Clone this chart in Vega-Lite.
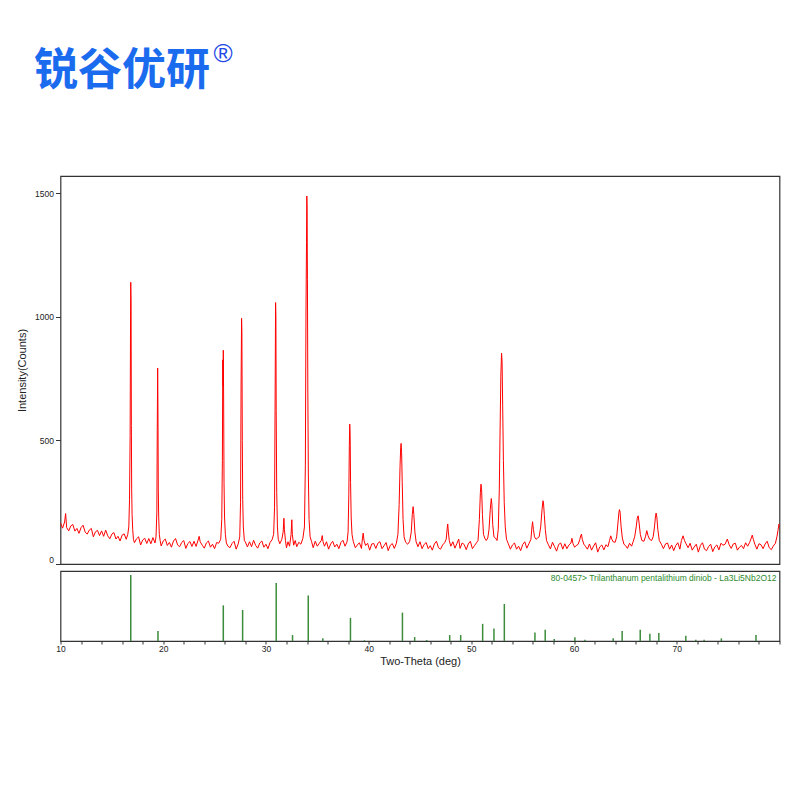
{
  "$schema": "https://vega.github.io/schema/vega-lite/v6.json",
  "description": "XRD pattern with reference card 80-0457 (La3Li5Nb2O12)",
  "padding": {"left": 15.5, "top": 41, "right": 5, "bottom": 5},
  "background": "white",
  "title": {
    "text": "锐谷优研",
    "subtitle": "\u200B\u2003\u2003\u2003\u2003\u2003\u2003\u2002\u2009\u2009®",
    "anchor": "start",
    "dx": 18,
    "offset": 72,
    "font": "Noto Sans CJK SC",
    "fontSize": 44,
    "fontWeight": "bold",
    "color": "#1b6bef",
    "subtitleFont": "Liberation Sans",
    "subtitleFontSize": 26,
    "subtitleColor": "#2147e6",
    "subtitlePadding": -53
  },
  "datasets": {
    "scan": [
      {"theta":10.0,"counts":167},{"theta":10.2,"counts":145},{"theta":10.4,"counts":170},{"theta":10.5,"counts":204},{"theta":10.6,"counts":147},
      {"theta":10.8,"counts":134},{"theta":11.0,"counts":154},{"theta":11.2,"counts":160},{"theta":11.4,"counts":133},{"theta":11.6,"counts":144},
      {"theta":11.8,"counts":124},{"theta":12.0,"counts":147},{"theta":12.2,"counts":157},{"theta":12.4,"counts":129},{"theta":12.6,"counts":121},
      {"theta":12.8,"counts":137},{"theta":13.0,"counts":144},{"theta":13.2,"counts":110},{"theta":13.4,"counts":130},{"theta":13.6,"counts":136},
      {"theta":13.8,"counts":115},{"theta":14.0,"counts":134},{"theta":14.2,"counts":112},{"theta":14.4,"counts":137},{"theta":14.6,"counts":114},
      {"theta":14.8,"counts":102},{"theta":15.0,"counts":121},{"theta":15.2,"counts":127},{"theta":15.4,"counts":101},{"theta":15.6,"counts":112},
      {"theta":15.8,"counts":93},{"theta":16.0,"counts":117},{"theta":16.2,"counts":122},{"theta":16.4,"counts":100},{"theta":16.55,"counts":120},
      {"theta":16.65,"counts":150},{"theta":16.72,"counts":260},{"theta":16.78,"counts":520},{"theta":16.82,"counts":1000},{"theta":16.84,"counts":1140},
      {"theta":16.87,"counts":1060},{"theta":16.9,"counts":560},{"theta":16.93,"counts":300},{"theta":16.97,"counts":200},{"theta":17.03,"counts":140},
      {"theta":17.1,"counts":100},{"theta":17.2,"counts":86},{"theta":17.4,"counts":102},{"theta":17.6,"counts":110},{"theta":17.8,"counts":77},
      {"theta":18.0,"counts":97},{"theta":18.2,"counts":104},{"theta":18.4,"counts":83},{"theta":18.6,"counts":103},{"theta":18.8,"counts":82},
      {"theta":19.0,"counts":107},{"theta":19.2,"counts":85},{"theta":19.3,"counts":110},{"theta":19.38,"counts":210},{"theta":19.42,"counts":540},
      {"theta":19.46,"counts":793},{"theta":19.49,"counts":620},{"theta":19.52,"counts":300},{"theta":19.56,"counts":190},{"theta":19.62,"counts":120},
      {"theta":19.7,"counts":95},{"theta":19.8,"counts":73},{"theta":20.0,"counts":93},{"theta":20.2,"counts":101},{"theta":20.4,"counts":75},
      {"theta":20.6,"counts":87},{"theta":20.8,"counts":68},{"theta":21.0,"counts":93},{"theta":21.2,"counts":103},{"theta":21.4,"counts":77},
      {"theta":21.6,"counts":70},{"theta":21.8,"counts":87},{"theta":22.0,"counts":95},{"theta":22.2,"counts":63},{"theta":22.4,"counts":83},
      {"theta":22.6,"counts":91},{"theta":22.8,"counts":71},{"theta":23.0,"counts":92},{"theta":23.2,"counts":71},{"theta":23.4,"counts":97},
      {"theta":23.5,"counts":112},{"theta":23.6,"counts":90},{"theta":23.8,"counts":76},{"theta":24.0,"counts":64},{"theta":24.2,"counts":85},
      {"theta":24.4,"counts":93},{"theta":24.6,"counts":68},{"theta":24.8,"counts":80},{"theta":25.0,"counts":62},{"theta":25.2,"counts":87},
      {"theta":25.4,"counts":84},{"theta":25.6,"counts":100},{"theta":25.7,"counts":180},{"theta":25.76,"counts":420},{"theta":25.8,"counts":826},
      {"theta":25.83,"counts":720},{"theta":25.85,"counts":865},{"theta":25.88,"counts":680},{"theta":25.92,"counts":330},{"theta":25.97,"counts":190},
      {"theta":26.05,"counts":120},{"theta":26.15,"counts":85},{"theta":26.3,"counts":72},{"theta":26.5,"counts":66},{"theta":26.7,"counts":83},
      {"theta":26.9,"counts":92},{"theta":27.1,"counts":60},{"theta":27.3,"counts":81},{"theta":27.45,"counts":110},{"theta":27.53,"counts":250},
      {"theta":27.58,"counts":720},{"theta":27.63,"counts":994},{"theta":27.66,"counts":940},{"theta":27.7,"counts":500},{"theta":27.74,"counts":260},
      {"theta":27.8,"counts":150},{"theta":27.9,"counts":95},{"theta":28.0,"counts":89},{"theta":28.2,"counts":69},{"theta":28.4,"counts":90},
      {"theta":28.6,"counts":70},{"theta":28.8,"counts":96},{"theta":29.0,"counts":75},{"theta":29.2,"counts":64},{"theta":29.4,"counts":85},
      {"theta":29.6,"counts":93},{"theta":29.8,"counts":68},{"theta":30.0,"counts":80},{"theta":30.2,"counts":62},{"theta":30.4,"counts":87},
      {"theta":30.6,"counts":98},{"theta":30.75,"counts":120},{"theta":30.84,"counts":230},{"theta":30.9,"counts":720},{"theta":30.94,"counts":1058},
      {"theta":30.97,"counts":1000},{"theta":31.0,"counts":620},{"theta":31.05,"counts":290},{"theta":31.12,"counts":150},{"theta":31.2,"counts":100},
      {"theta":31.35,"counts":82},{"theta":31.55,"counts":100},{"theta":31.68,"counts":130},{"theta":31.75,"counts":185},{"theta":31.8,"counts":140},
      {"theta":31.9,"counts":95},{"theta":32.0,"counts":66},{"theta":32.15,"counts":90},{"theta":32.3,"counts":72},{"theta":32.45,"counts":120},
      {"theta":32.52,"counts":179},{"theta":32.57,"counts":120},{"theta":32.7,"counts":76},{"theta":32.85,"counts":95},{"theta":33.0,"counts":70},
      {"theta":33.2,"counts":88},{"theta":33.4,"counts":80},{"theta":33.6,"counts":104},{"theta":33.75,"counts":150},{"theta":33.84,"counts":400},
      {"theta":33.9,"counts":1020},{"theta":33.95,"counts":1300},{"theta":33.98,"counts":1489},{"theta":34.01,"counts":1440},{"theta":34.04,"counts":1150},
      {"theta":34.08,"counts":700},{"theta":34.13,"counts":360},{"theta":34.2,"counts":180},{"theta":34.3,"counts":110},{"theta":34.45,"counts":90},
      {"theta":34.6,"counts":66},{"theta":34.8,"counts":92},{"theta":35.0,"counts":72},{"theta":35.2,"counts":84},{"theta":35.4,"counts":96},
      {"theta":35.48,"counts":115},{"theta":35.56,"counts":90},{"theta":35.7,"counts":72},{"theta":35.9,"counts":90},{"theta":36.1,"counts":60},
      {"theta":36.3,"counts":81},{"theta":36.5,"counts":92},{"theta":36.7,"counts":69},{"theta":36.9,"counts":80},{"theta":37.1,"counts":62},
      {"theta":37.3,"counts":87},{"theta":37.5,"counts":96},{"theta":37.7,"counts":72},{"theta":37.9,"counts":90},{"theta":38.0,"counts":130},
      {"theta":38.07,"counts":280},{"theta":38.12,"counts":480},{"theta":38.16,"counts":566},{"theta":38.2,"counts":520},{"theta":38.24,"counts":330},
      {"theta":38.3,"counts":190},{"theta":38.38,"counts":120},{"theta":38.5,"counts":92},{"theta":38.7,"counts":66},{"theta":38.9,"counts":77},
      {"theta":39.1,"counts":86},{"theta":39.3,"counts":63},{"theta":39.4,"counts":105},{"theta":39.47,"counts":125},{"theta":39.55,"counts":95},
      {"theta":39.7,"counts":75},{"theta":39.9,"counts":84},{"theta":40.1,"counts":56},{"theta":40.3,"counts":81},{"theta":40.5,"counts":83},
      {"theta":40.7,"counts":63},{"theta":40.9,"counts":84},{"theta":41.1,"counts":90},{"theta":41.3,"counts":62},{"theta":41.5,"counts":74},
      {"theta":41.7,"counts":87},{"theta":41.9,"counts":54},{"theta":42.1,"counts":75},{"theta":42.3,"counts":83},{"theta":42.5,"counts":63},
      {"theta":42.7,"counts":84},{"theta":42.85,"counts":120},{"theta":42.97,"counts":240},{"theta":43.06,"counts":400},{"theta":43.12,"counts":470},
      {"theta":43.16,"counts":488},{"theta":43.21,"counts":450},{"theta":43.27,"counts":330},{"theta":43.35,"counts":180},{"theta":43.45,"counts":110},
      {"theta":43.6,"counts":88},{"theta":43.8,"counts":80},{"theta":44.0,"counts":92},{"theta":44.15,"counts":130},{"theta":44.25,"counts":200},
      {"theta":44.33,"counts":232},{"theta":44.4,"counts":200},{"theta":44.5,"counts":130},{"theta":44.62,"counts":90},{"theta":44.8,"counts":70},
      {"theta":45.0,"counts":90},{"theta":45.2,"counts":62},{"theta":45.4,"counts":79},{"theta":45.6,"counts":87},{"theta":45.8,"counts":62},
      {"theta":46.0,"counts":74},{"theta":46.2,"counts":56},{"theta":46.4,"counts":81},{"theta":46.6,"counts":92},{"theta":46.8,"counts":66},
      {"theta":47.0,"counts":60},{"theta":47.2,"counts":77},{"theta":47.4,"counts":86},{"theta":47.55,"counts":100},{"theta":47.65,"counts":145},
      {"theta":47.7,"counts":162},{"theta":47.76,"counts":130},{"theta":47.85,"counts":95},{"theta":48.0,"counts":72},{"theta":48.2,"counts":90},
      {"theta":48.4,"counts":64},{"theta":48.6,"counts":84},{"theta":48.77,"counts":101},{"theta":48.9,"counts":63},{"theta":49.1,"counts":85},
      {"theta":49.3,"counts":79},{"theta":49.5,"counts":58},{"theta":49.7,"counts":81},{"theta":49.9,"counts":92},{"theta":50.1,"counts":62},
      {"theta":50.3,"counts":74},{"theta":50.5,"counts":86},{"theta":50.65,"counts":95},{"theta":50.78,"counts":180},{"theta":50.88,"counts":290},
      {"theta":50.94,"counts":323},{"theta":51.0,"counts":300},{"theta":51.08,"counts":200},{"theta":51.18,"counts":120},{"theta":51.3,"counts":105},
      {"theta":51.45,"counts":95},{"theta":51.6,"counts":105},{"theta":51.72,"counts":140},{"theta":51.84,"counts":220},{"theta":51.94,"counts":265},
      {"theta":52.0,"counts":240},{"theta":52.08,"counts":160},{"theta":52.2,"counts":110},{"theta":52.35,"counts":105},{"theta":52.5,"counts":95},
      {"theta":52.62,"counts":140},{"theta":52.72,"counts":300},{"theta":52.8,"counts":550},{"theta":52.87,"counts":760},{"theta":52.94,"counts":853},
      {"theta":52.99,"counts":820},{"theta":53.05,"counts":640},{"theta":53.12,"counts":420},{"theta":53.2,"counts":250},{"theta":53.3,"counts":150},
      {"theta":53.42,"counts":100},{"theta":53.6,"counts":82},{"theta":53.8,"counts":60},{"theta":54.0,"counts":77},{"theta":54.2,"counts":85},
      {"theta":54.4,"counts":60},{"theta":54.6,"counts":72},{"theta":54.8,"counts":54},{"theta":55.0,"counts":79},{"theta":55.2,"counts":90},
      {"theta":55.4,"counts":64},{"theta":55.6,"counts":82},{"theta":55.8,"counts":100},{"theta":55.9,"counts":150},{"theta":55.96,"counts":171},
      {"theta":56.04,"counts":140},{"theta":56.15,"counts":110},{"theta":56.3,"counts":100},{"theta":56.45,"counts":105},{"theta":56.6,"counts":110},
      {"theta":56.75,"counts":150},{"theta":56.88,"counts":220},{"theta":56.97,"counts":256},{"theta":57.02,"counts":250},{"theta":57.1,"counts":200},
      {"theta":57.2,"counts":140},{"theta":57.32,"counts":95},{"theta":57.5,"counts":78},{"theta":57.7,"counts":61},{"theta":57.9,"counts":88},
      {"theta":58.1,"counts":70},{"theta":58.3,"counts":52},{"theta":58.5,"counts":79},{"theta":58.7,"counts":85},{"theta":58.9,"counts":60},
      {"theta":59.1,"counts":82},{"theta":59.3,"counts":62},{"theta":59.5,"counts":77},{"theta":59.7,"counts":85},{"theta":59.79,"counts":104},
      {"theta":59.9,"counts":82},{"theta":60.05,"counts":68},{"theta":60.2,"counts":74},{"theta":60.4,"counts":80},{"theta":60.55,"counts":98},
      {"theta":60.65,"counts":115},{"theta":60.72,"counts":121},{"theta":60.8,"counts":100},{"theta":60.95,"counts":80},{"theta":61.1,"counts":72},
      {"theta":61.3,"counts":60},{"theta":61.5,"counts":81},{"theta":61.7,"counts":56},{"theta":61.9,"counts":73},{"theta":62.1,"counts":86},
      {"theta":62.3,"counts":48},{"theta":62.5,"counts":69},{"theta":62.7,"counts":77},{"theta":62.9,"counts":57},{"theta":63.1,"counts":78},
      {"theta":63.3,"counts":70},{"theta":63.45,"counts":95},{"theta":63.57,"counts":114},{"theta":63.68,"counts":100},{"theta":63.8,"counts":90},
      {"theta":64.0,"counts":88},{"theta":64.15,"counts":110},{"theta":64.28,"counts":170},{"theta":64.37,"counts":210},{"theta":64.42,"counts":220},
      {"theta":64.48,"counts":210},{"theta":64.58,"counts":150},{"theta":64.7,"counts":105},{"theta":64.85,"counts":80},{"theta":65.0,"counts":75},
      {"theta":65.2,"counts":63},{"theta":65.4,"counts":84},{"theta":65.6,"counts":72},{"theta":65.75,"counts":90},{"theta":65.9,"counts":110},
      {"theta":66.05,"counts":150},{"theta":66.15,"counts":185},{"theta":66.24,"counts":195},{"theta":66.32,"counts":170},{"theta":66.45,"counts":120},
      {"theta":66.6,"counts":95},{"theta":66.8,"counts":92},{"theta":66.95,"counts":110},{"theta":67.08,"counts":135},{"theta":67.2,"counts":115},
      {"theta":67.35,"counts":100},{"theta":67.55,"counts":95},{"theta":67.7,"counts":110},{"theta":67.83,"counts":150},{"theta":67.93,"counts":195},
      {"theta":67.99,"counts":206},{"theta":68.06,"counts":190},{"theta":68.15,"counts":140},{"theta":68.3,"counts":95},{"theta":68.5,"counts":80},
      {"theta":68.7,"counts":62},{"theta":68.9,"counts":81},{"theta":69.1,"counts":85},{"theta":69.3,"counts":60},{"theta":69.5,"counts":77},
      {"theta":69.7,"counts":54},{"theta":69.9,"counts":75},{"theta":70.1,"counts":86},{"theta":70.3,"counts":60},{"theta":70.45,"counts":95},
      {"theta":70.61,"counts":114},{"theta":70.75,"counts":95},{"theta":70.9,"counts":82},{"theta":71.1,"counts":66},{"theta":71.3,"counts":84},
      {"theta":71.5,"counts":56},{"theta":71.7,"counts":69},{"theta":71.9,"counts":80},{"theta":72.1,"counts":48},{"theta":72.3,"counts":75},
      {"theta":72.5,"counts":86},{"theta":72.7,"counts":60},{"theta":72.9,"counts":54},{"theta":73.1,"counts":71},{"theta":73.3,"counts":80},
      {"theta":73.5,"counts":50},{"theta":73.7,"counts":69},{"theta":73.9,"counts":77},{"theta":74.1,"counts":57},{"theta":74.3,"counts":84},
      {"theta":74.5,"counts":76},{"theta":74.7,"counts":80},{"theta":74.92,"counts":101},{"theta":75.1,"counts":78},{"theta":75.3,"counts":63},
      {"theta":75.5,"counts":81},{"theta":75.7,"counts":84},{"theta":75.9,"counts":56},{"theta":76.1,"counts":68},{"theta":76.3,"counts":75},
      {"theta":76.5,"counts":62},{"theta":76.7,"counts":86},{"theta":76.9,"counts":72},{"theta":77.1,"counts":88},{"theta":77.25,"counts":105},
      {"theta":77.35,"counts":117},{"theta":77.45,"counts":100},{"theta":77.6,"counts":80},{"theta":77.8,"counts":60},{"theta":78.0,"counts":82},
      {"theta":78.2,"counts":78},{"theta":78.4,"counts":62},{"theta":78.6,"counts":81},{"theta":78.8,"counts":92},{"theta":79.0,"counts":66},
      {"theta":79.2,"counts":58},{"theta":79.4,"counts":73},{"theta":79.6,"counts":84},{"theta":79.75,"counts":110},{"theta":79.85,"counts":135},
      {"theta":79.95,"counts":162},{"theta":80.0,"counts":150}
    ],
    "card": [
      {"theta":16.84,"rel":100},{"theta":19.49,"rel":15},{"theta":25.85,"rel":54},{"theta":27.73,"rel":47},
      {"theta":31.0,"rel":88},{"theta":32.59,"rel":9},{"theta":34.12,"rel":69},{"theta":35.54,"rel":4},
      {"theta":38.23,"rel":35},{"theta":39.59,"rel":1},{"theta":43.29,"rel":43},{"theta":44.48,"rel":6},
      {"theta":45.65,"rel":1.5},{"theta":47.89,"rel":9},{"theta":48.96,"rel":9},{"theta":51.1,"rel":26},
      {"theta":52.2,"rel":19},{"theta":53.21,"rel":56},{"theta":56.19,"rel":13},{"theta":57.19,"rel":17},
      {"theta":58.07,"rel":3},{"theta":60.08,"rel":5.5},{"theta":61.06,"rel":2},{"theta":63.81,"rel":4},
      {"theta":64.68,"rel":15},{"theta":66.44,"rel":17},{"theta":67.38,"rel":11},{"theta":68.25,"rel":12},
      {"theta":70.88,"rel":8},{"theta":71.85,"rel":2},{"theta":72.66,"rel":2},{"theta":74.34,"rel":4},
      {"theta":77.71,"rel":9}
    ]
  },
  "spacing": 4,
  "resolve": {"scale": {"y": "independent"}},
  "vconcat": [
    {
      "width": 719,
      "height": 388,
      "data": {"name": "scan"},
      "mark": {"type": "line", "color": "#ff0000", "strokeWidth": 1, "clip": true},
      "encoding": {
        "x": {"field": "theta", "type": "quantitative", "scale": {"domain": [10, 80], "nice": false, "zero": false}, "axis": null},
        "y": {
          "field": "counts", "type": "quantitative",
          "scale": {"domain": [0, 1570], "nice": false},
          "axis": {
            "title": "Intensity(Counts)",
            "values": [0, 500, 1000, 1500],
            "format": "d",
            "grid": false, "domain": false,
            "tickSize": 5, "tickColor": "#333", "labelPadding": 2,
            "labelFont": "Liberation Sans", "labelFontSize": 8.5, "labelColor": "#222",
            "labelFlush": true,
            "titleFont": "Liberation Sans", "titleFontSize": 11, "titleFontWeight": "normal", "titleColor": "#222",
            "titlePadding": 7
          }
        }
      }
    },
    {
      "width": 719,
      "height": 70,
      "data": {"name": "card"},
      "title": {
        "text": "80-0457> Trilanthanum pentalithium diniob - La3Li5Nb2O12",
        "anchor": "end", "frame": "group", "offset": -11, "dx": -3,
        "font": "Liberation Sans", "fontSize": 8.5, "fontWeight": "normal", "color": "#2e8b2e"
      },
      "mark": {"type": "rule", "color": "#3c8c3c", "strokeWidth": 1.5},
      "encoding": {
        "x": {
          "field": "theta", "type": "quantitative",
          "scale": {"domain": [10, 80], "nice": false, "zero": false},
          "axis": {
            "title": "Two-Theta (deg)",
            "values": [10,12,14,16,18,20,22,24,26,28,30,32,34,36,38,40,42,44,46,48,50,52,54,56,58,60,62,64,66,68,70,72,74,76,78,80],
            "labelExpr": "datum.value % 10 === 0 && datum.value < 80 ? datum.label : ''",
            "grid": false, "domain": false,
            "tickSize": 3, "tickColor": "#333", "labelPadding": 0, "labelFlush": false,
            "labelFont": "Liberation Sans", "labelFontSize": 8.5, "labelColor": "#222",
            "titleFont": "Liberation Sans", "titleFontSize": 11, "titleFontWeight": "normal", "titleColor": "#222",
            "titlePadding": 3
          }
        },
        "y": {"field": "rel", "type": "quantitative", "scale": {"domain": [0, 106], "nice": false}, "axis": null},
        "y2": {"datum": 0}
      }
    }
  ],
  "config": {
    "view": {"stroke": "#333", "strokeWidth": 1.2}
  }
}
